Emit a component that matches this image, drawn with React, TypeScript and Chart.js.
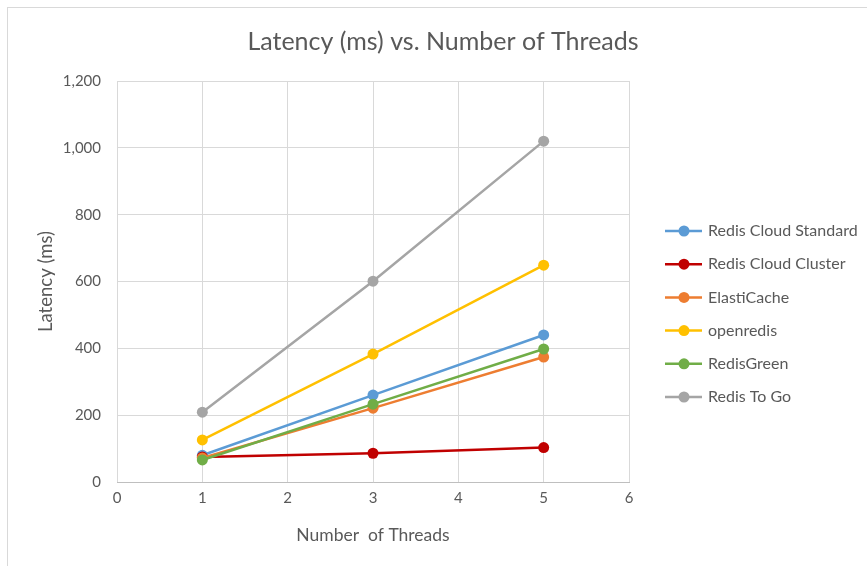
import React, { useEffect, useRef } from "react";
import { Chart, registerables } from "chart.js";

Chart.register(...registerables);

// ---- Data ----
const threads = [1, 3, 5];
const seriesNames = [
  "Redis Cloud Standard",
  "Redis Cloud Cluster",
  "ElastiCache",
  "openredis",
  "RedisGreen",
  "Redis To Go",
];
const redisCloudStandard = [80, 260, 440];
const redisCloudCluster = [75, 86, 103];
const elastiCache = [72, 221, 374];
const openredis = [126, 383, 649];
const redisGreen = [66, 233, 398];
const redisToGo = [209, 601, 1020];
const seriesValues = [
  redisCloudStandard,
  redisCloudCluster,
  elastiCache,
  openredis,
  redisGreen,
  redisToGo,
];
const seriesColors = ["#5B9BD5", "#C00000", "#ED7D31", "#FFC000", "#70AD47", "#A5A5A5"];

const xMin = 0;
const xMax = 6;
const xStep = 1;
const yMin = 0;
const yMax = 1200;
const yStep = 200;

const chartTitle = "Latency (ms) vs. Number of Threads";
const xTitle = "Number  of Threads";
const yTitle = "Latency (ms)";

const FONT = "Lato, 'Open Sans', sans-serif";
const TEXT = "#595959";
const GRID = "#d9d9d9";

const legendPlugin = {
  id: "excelLegend",
  afterDraw(chart: any) {
    const ctx = chart.ctx;
    ctx.save();
    chart.data.datasets.forEach((ds: any, i: number) => {
      const y = 231 + i * 33.2;
      ctx.strokeStyle = ds.borderColor;
      ctx.lineWidth = 2.5;
      ctx.beginPath();
      ctx.moveTo(665, y);
      ctx.lineTo(702, y);
      ctx.stroke();
      ctx.fillStyle = ds.borderColor;
      ctx.beginPath();
      ctx.arc(684, y, 5.5, 0, Math.PI * 2);
      ctx.fill();
      ctx.fillStyle = TEXT;
      ctx.font = `16px ${FONT}`;
      ctx.textAlign = "left";
      ctx.textBaseline = "middle";
      ctx.fillText(ds.label, 708, y);
    });
    ctx.restore();
  },
};

export default function App() {
  const ref = useRef<HTMLCanvasElement | null>(null);

  useEffect(() => {
    if (!ref.current) return;
    const n = seriesNames.length;
    const chart = new Chart(ref.current, {
      type: "line",
      data: {
        datasets: seriesNames.map((name, i) => ({
          label: name,
          data: threads.map((t, j) => ({ x: t, y: seriesValues[i][j] })),
          borderColor: seriesColors[i],
          backgroundColor: seriesColors[i],
          pointBackgroundColor: seriesColors[i],
          pointBorderColor: seriesColors[i],
          borderWidth: 2.5,
          pointRadius: 5.5,
          pointBorderWidth: 0,
          fill: false,
          tension: 0,
          order: n - i,
          yAxisID: "y",
        })),
      },
      options: {
        responsive: false,
        animation: false,
        layout: { padding: { left: 19, right: 0, top: 0, bottom: 0 } },
        plugins: {
          legend: { display: false },
          tooltip: { enabled: false },
          title: {
            display: true,
            text: chartTitle,
            color: TEXT,
            font: { family: FONT, size: 25, weight: "normal" },
            padding: { top: 27, bottom: 24 },
          },
        },
        scales: {
          x: {
            type: "linear",
            min: xMin,
            max: xMax,
            ticks: { stepSize: xStep, color: TEXT, font: { family: FONT, size: 15 }, padding: 7 },
            grid: { color: GRID, drawTicks: false },
            border: { color: "#bfbfbf" },
            title: {
              display: true,
              text: xTitle,
              color: TEXT,
              font: { family: FONT, size: 17.5 },
              padding: { top: 0, bottom: 20.5 },
            },
            afterFit: (scale: any) => {
              scale.height = 84;
            },
          },
          y: {
            type: "linear",
            position: "left",
            min: yMin,
            max: yMax,
            ticks: { stepSize: yStep, color: TEXT, font: { family: FONT, size: 15 }, padding: 16 },
            grid: { color: GRID, drawTicks: false },
            border: { display: false },
            title: {
              display: true,
              text: yTitle,
              color: TEXT,
              font: { family: FONT, size: 18.5 },
              padding: { top: 16, bottom: 0 },
            },
            afterFit: (scale: any) => {
              scale.width = 98;
            },
          },
          legendSpace: {
            type: "linear",
            position: "right",
            min: yMin,
            max: yMax,
            ticks: { display: false },
            grid: { display: false, drawOnChartArea: false },
            border: { display: false },
            afterFit: (scale: any) => {
              scale.width = 238;
            },
          },
        },
      },
      plugins: [legendPlugin],
    });
    return () => chart.destroy();
  }, []);

  return (
    <div
      style={{
        position: "absolute",
        left: 0,
        top: 0,
        width: 867,
        height: 566,
        overflow: "hidden",
        background: "#ffffff",
      }}
    >
      <div
        style={{
          position: "absolute",
          left: 7,
          top: 7,
          width: 1000,
          height: 1000,
          borderTop: "1px solid #d9d9d9",
          borderLeft: "1px solid #d9d9d9",
        }}
      />
      <canvas
        ref={ref}
        width={867}
        height={566}
        style={{ position: "absolute", left: 0, top: 0, width: 867, height: 566 }}
      />
    </div>
  );
}
